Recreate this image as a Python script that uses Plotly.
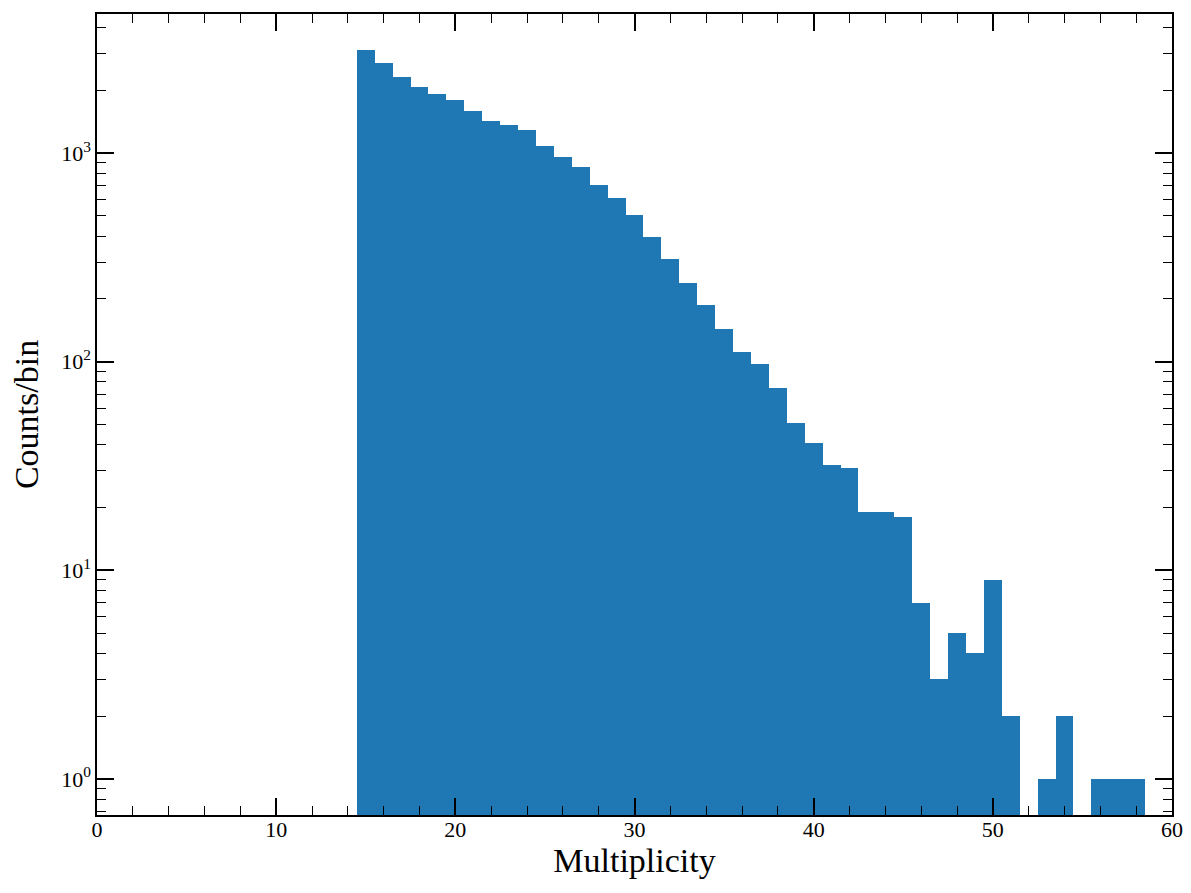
import plotly.graph_objects as go

# Histogram data (bin centers, counts per bin of width 1)
bin_centers = list(range(15, 59))
counts = [3126, 2706, 2319, 2076, 1922, 1799, 1593, 1426, 1365, 1291,
          1082, 958, 858, 703, 609, 504, 396, 310, 238, 187,
          143, 111, 98, 75, 51, 41, 32, 31, 19, 19,
          18, 7, 3, 5, 4, 9, 2, 0, 1, 2,
          0, 1, 1, 1]

x_tick_vals = [0, 10, 20, 30, 40, 50, 60]
x_minor_vals = [v for v in range(0, 61, 2) if v % 10 != 0]
y_tick_vals = [1, 10, 100, 1000]
y_tick_text = ["10<sup>0</sup>", "10<sup>1</sup>", "10<sup>2</sup>", "10<sup>3</sup>"]
y_minor_vals = [m * 10 ** k for k in range(-1, 4) for m in range(2, 10)]

xs = [c for c, n in zip(bin_centers, counts) if n > 0]
ys = [n for n in counts if n > 0]

fig = go.Figure(go.Bar(
    x=xs, y=ys, width=1.0,
    marker=dict(color="#1f77b4", line=dict(width=0)),
))

font_family = "Liberation Serif"
axis_common = dict(
    showline=True, linecolor="black", linewidth=1.5, mirror="ticks",
    ticks="inside", tickcolor="black", tickwidth=1.5, ticklen=17,
    showgrid=False, zeroline=False, automargin=False,
    tickfont=dict(family=font_family, size=22, color="black"),
)

# page body has an 8px margin, so the figure is offset by 8px in the window
fig.update_layout(
    width=1183, height=885,
    margin=dict(l=89, r=19, t=6, b=78),
    paper_bgcolor="white", plot_bgcolor="white",
    bargap=0, showlegend=False,
    font=dict(family=font_family, color="black"),
    xaxis=dict(
        range=[0, 60], tickmode="array", tickvals=x_tick_vals,
        minor=dict(tickmode="array", tickvals=x_minor_vals, ticks="inside",
                   ticklen=9, tickwidth=1, tickcolor="black"),
        ticklabelstandoff=-6,
        title=dict(text="Multiplicity", font=dict(family=font_family, size=34, color="black"), standoff=6),
        **axis_common,
    ),
    yaxis=dict(
        type="log", range=[-0.1726, 3.667], tickmode="array",
        tickvals=y_tick_vals, ticktext=y_tick_text,
        minor=dict(tickmode="array", tickvals=y_minor_vals, ticks="inside",
                   ticklen=9, tickwidth=1, tickcolor="black"),
        title=dict(text="Counts/bin", font=dict(family=font_family, size=34, color="black"), standoff=12),
        **axis_common,
    ),
)

fig.write_html("out.html")
